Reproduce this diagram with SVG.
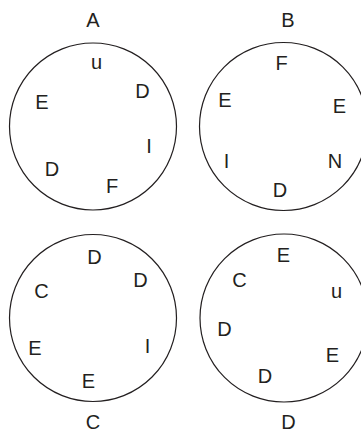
<svg xmlns="http://www.w3.org/2000/svg" width="361" height="433" viewBox="0 0 361 433">
<style>
.c{fill:none;stroke:#231f20;stroke-width:1.2}
text{font-family:"Liberation Sans",Arial,sans-serif;font-size:20px;fill:#231f20;text-anchor:middle}
</style>
<rect width="361" height="433" fill="#fff"/>
<g id="A">
<circle class="c" cx="93" cy="126.5" r="83.5"/>
<text x="93" y="26.5">A</text>
<text x="96.5" y="68.5">u</text>
<text x="142.5" y="98">D</text>
<text x="42" y="109">E</text>
<text x="149" y="153">I</text>
<text x="52" y="176">D</text>
<text x="112" y="193">F</text>
</g>
<g id="B">
<circle class="c" cx="283.5" cy="126.5" r="84"/>
<text x="288" y="27">B</text>
<text x="281.5" y="70">F</text>
<text x="225" y="107">E</text>
<text x="339.5" y="113">E</text>
<text x="226.5" y="168">I</text>
<text x="335" y="168">N</text>
<text x="280" y="197">D</text>
</g>
<g id="C">
<circle class="c" cx="93" cy="318" r="83.5"/>
<text x="94.5" y="264">D</text>
<text x="140.5" y="287">D</text>
<text x="41.5" y="298">C</text>
<text x="35" y="355">E</text>
<text x="147.5" y="353">I</text>
<text x="88.5" y="388">E</text>
<text x="93" y="429">C</text>
</g>
<g id="D">
<circle class="c" cx="284" cy="318" r="84"/>
<text x="283.5" y="262">E</text>
<text x="239.5" y="287">C</text>
<text x="336.5" y="298">u</text>
<text x="224.5" y="336">D</text>
<text x="332.5" y="362">E</text>
<text x="265" y="383">D</text>
<text x="288.5" y="429">D</text>
</g>
<g id="connectors"></g>
</svg>
